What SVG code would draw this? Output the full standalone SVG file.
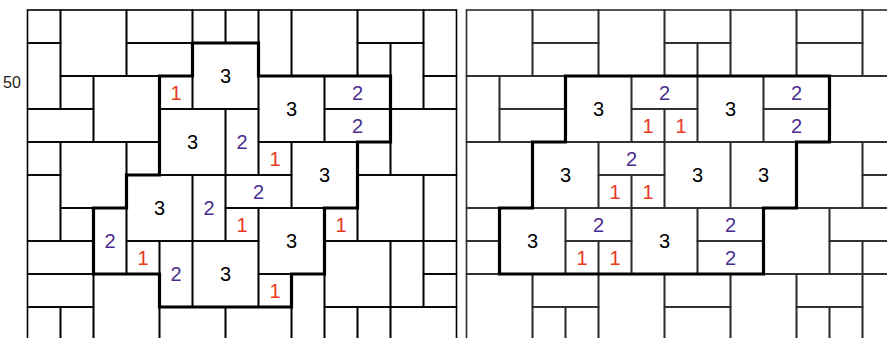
<svg xmlns="http://www.w3.org/2000/svg" width="887" height="338" viewBox="0 0 887 338">
<style>
.L rect{fill:none;stroke:#000;stroke-width:1.6}
.R rect{fill:none;stroke:#2b2b2b;stroke-width:1.6}
.region{fill:none;stroke:#000;stroke-width:3.2;stroke-linejoin:miter}
text{font-family:"Liberation Sans",Arial,sans-serif;font-size:20px;text-anchor:middle}
.n1{fill:#e8391d}
.n2{fill:#4b2d8f}
.n3{fill:#000}
.axis{font-size:16px;fill:#222}
</style>
<rect x="0" y="0" width="887" height="338" fill="#fff"/>
<text class="axis" x="12" y="88">50</text>
<g id="left-panel" transform="translate(27.5,10)">
<g class="L" id="left-tiles">
<rect x="0" y="0" width="33" height="33"/>
<rect x="33" y="0" width="66" height="66"/>
<rect x="99" y="0" width="66" height="33"/>
<rect x="165" y="0" width="33" height="33"/>
<rect x="198" y="0" width="33" height="33"/>
<rect x="231" y="0" width="33" height="66"/>
<rect x="264" y="0" width="66" height="66"/>
<rect x="330" y="0" width="66" height="33"/>
<rect x="396" y="0" width="33" height="66"/>
<rect x="0" y="33" width="33" height="66"/>
<rect x="99" y="33" width="66" height="33"/>
<rect x="165" y="33" width="66" height="66"/>
<rect x="330" y="33" width="33" height="33"/>
<rect x="363" y="33" width="33" height="66"/>
<rect x="33" y="66" width="33" height="33"/>
<rect x="66" y="66" width="66" height="66"/>
<rect x="132" y="66" width="33" height="33"/>
<rect x="231" y="66" width="66" height="66"/>
<rect x="297" y="66" width="66" height="33"/>
<rect x="396" y="66" width="33" height="33"/>
<rect x="0" y="99" width="66" height="33"/>
<rect x="132" y="99" width="66" height="66"/>
<rect x="198" y="99" width="33" height="66"/>
<rect x="297" y="99" width="66" height="33"/>
<rect x="363" y="99" width="66" height="66"/>
<rect x="0" y="132" width="33" height="33"/>
<rect x="33" y="132" width="66" height="66"/>
<rect x="99" y="132" width="33" height="33"/>
<rect x="231" y="132" width="33" height="33"/>
<rect x="264" y="132" width="66" height="66"/>
<rect x="330" y="132" width="33" height="33"/>
<rect x="0" y="165" width="33" height="66"/>
<rect x="99" y="165" width="66" height="66"/>
<rect x="165" y="165" width="33" height="66"/>
<rect x="198" y="165" width="66" height="33"/>
<rect x="330" y="165" width="66" height="66"/>
<rect x="396" y="165" width="33" height="66"/>
<rect x="33" y="198" width="33" height="33"/>
<rect x="66" y="198" width="33" height="66"/>
<rect x="198" y="198" width="33" height="33"/>
<rect x="231" y="198" width="66" height="66"/>
<rect x="297" y="198" width="33" height="33"/>
<rect x="0" y="231" width="66" height="33"/>
<rect x="99" y="231" width="33" height="33"/>
<rect x="132" y="231" width="33" height="66"/>
<rect x="165" y="231" width="66" height="66"/>
<rect x="297" y="231" width="66" height="66"/>
<rect x="363" y="231" width="33" height="66"/>
<rect x="396" y="231" width="33" height="33"/>
<rect x="0" y="264" width="66" height="33"/>
<rect x="66" y="264" width="66" height="66"/>
<rect x="231" y="264" width="33" height="33"/>
<rect x="264" y="264" width="33" height="66"/>
<rect x="396" y="264" width="33" height="33"/>
<rect x="0" y="297" width="33" height="33"/>
<rect x="33" y="297" width="33" height="33"/>
<rect x="132" y="297" width="66" height="33"/>
<rect x="198" y="297" width="66" height="33"/>
<rect x="297" y="297" width="33" height="33"/>
<rect x="330" y="297" width="33" height="33"/>
<rect x="363" y="297" width="66" height="33"/>
</g>
<path id="left-region" class="region" d="M165,33 H231 V66 H363 V132 H330 V198 H297 V264 H264 V297 H132 V264 H66 V198 H99 V165 H132 V66 H165 Z"/>
<g id="left-labels">
<text class="n3" x="198" y="73">3</text>
<text class="n1" x="148.5" y="89.5">1</text>
<text class="n3" x="264" y="106">3</text>
<text class="n2" x="330" y="89.5">2</text>
<text class="n2" x="330" y="122.5">2</text>
<text class="n3" x="165" y="139">3</text>
<text class="n2" x="214.5" y="139">2</text>
<text class="n1" x="247.5" y="155.5">1</text>
<text class="n3" x="297" y="172">3</text>
<text class="n3" x="132" y="205">3</text>
<text class="n2" x="181.5" y="205">2</text>
<text class="n2" x="231" y="188.5">2</text>
<text class="n2" x="82.5" y="238">2</text>
<text class="n1" x="214.5" y="221.5">1</text>
<text class="n3" x="264" y="238">3</text>
<text class="n1" x="313.5" y="221.5">1</text>
<text class="n1" x="115.5" y="254.5">1</text>
<text class="n2" x="148.5" y="271">2</text>
<text class="n3" x="198" y="271">3</text>
<text class="n1" x="247.5" y="287.5">1</text>
</g>
</g>
<g id="right-panel" transform="translate(466.5,10)">
<g class="R" id="right-tiles">
<rect x="0" y="0" width="66" height="66"/>
<rect x="66" y="0" width="66" height="33"/>
<rect x="132" y="0" width="66" height="66"/>
<rect x="198" y="0" width="66" height="33"/>
<rect x="264" y="0" width="66" height="66"/>
<rect x="330" y="0" width="66" height="33"/>
<rect x="396" y="0" width="33" height="66"/>
<rect x="66" y="33" width="66" height="33"/>
<rect x="198" y="33" width="33" height="33"/>
<rect x="231" y="33" width="33" height="33"/>
<rect x="330" y="33" width="66" height="33"/>
<rect x="0" y="66" width="33" height="66"/>
<rect x="33" y="66" width="66" height="33"/>
<rect x="99" y="66" width="66" height="66"/>
<rect x="165" y="66" width="66" height="33"/>
<rect x="231" y="66" width="66" height="66"/>
<rect x="297" y="66" width="66" height="33"/>
<rect x="363" y="66" width="66" height="66"/>
<rect x="33" y="99" width="66" height="33"/>
<rect x="165" y="99" width="33" height="33"/>
<rect x="198" y="99" width="33" height="33"/>
<rect x="297" y="99" width="66" height="33"/>
<rect x="0" y="132" width="66" height="66"/>
<rect x="66" y="132" width="66" height="66"/>
<rect x="132" y="132" width="66" height="33"/>
<rect x="198" y="132" width="66" height="66"/>
<rect x="264" y="132" width="66" height="66"/>
<rect x="330" y="132" width="66" height="66"/>
<rect x="396" y="132" width="33" height="33"/>
<rect x="132" y="165" width="33" height="33"/>
<rect x="165" y="165" width="33" height="33"/>
<rect x="396" y="165" width="33" height="33"/>
<rect x="0" y="198" width="33" height="33"/>
<rect x="33" y="198" width="66" height="66"/>
<rect x="99" y="198" width="66" height="33"/>
<rect x="165" y="198" width="66" height="66"/>
<rect x="231" y="198" width="66" height="33"/>
<rect x="297" y="198" width="66" height="66"/>
<rect x="363" y="198" width="66" height="33"/>
<rect x="0" y="231" width="33" height="33"/>
<rect x="99" y="231" width="33" height="33"/>
<rect x="132" y="231" width="33" height="33"/>
<rect x="231" y="231" width="66" height="33"/>
<rect x="363" y="231" width="33" height="33"/>
<rect x="396" y="231" width="33" height="33"/>
<rect x="0" y="264" width="66" height="66"/>
<rect x="66" y="264" width="66" height="33"/>
<rect x="132" y="264" width="66" height="66"/>
<rect x="198" y="264" width="66" height="33"/>
<rect x="264" y="264" width="66" height="66"/>
<rect x="330" y="264" width="66" height="33"/>
<rect x="396" y="264" width="33" height="66"/>
<rect x="66" y="297" width="33" height="33"/>
<rect x="99" y="297" width="33" height="33"/>
<rect x="198" y="297" width="66" height="33"/>
<rect x="330" y="297" width="33" height="33"/>
<rect x="363" y="297" width="33" height="33"/>
</g>
<path id="right-region" class="region" d="M99,66 H363 V132 H330 V198 H297 V264 H33 V198 H66 V132 H99 Z"/>
<g id="right-labels">
<text class="n3" x="132" y="106">3</text>
<text class="n2" x="198" y="89.5">2</text>
<text class="n1" x="181.5" y="122.5">1</text>
<text class="n1" x="214.5" y="122.5">1</text>
<text class="n3" x="264" y="106">3</text>
<text class="n2" x="330" y="89.5">2</text>
<text class="n2" x="330" y="122.5">2</text>
<text class="n3" x="99" y="172">3</text>
<text class="n2" x="165" y="155.5">2</text>
<text class="n1" x="148.5" y="188.5">1</text>
<text class="n1" x="181.5" y="188.5">1</text>
<text class="n3" x="231" y="172">3</text>
<text class="n3" x="297" y="172">3</text>
<text class="n3" x="66" y="238">3</text>
<text class="n2" x="132" y="221.5">2</text>
<text class="n1" x="115.5" y="254.5">1</text>
<text class="n1" x="148.5" y="254.5">1</text>
<text class="n3" x="198" y="238">3</text>
<text class="n2" x="264" y="221.5">2</text>
<text class="n2" x="264" y="254.5">2</text>
</g>
</g>
</svg>
